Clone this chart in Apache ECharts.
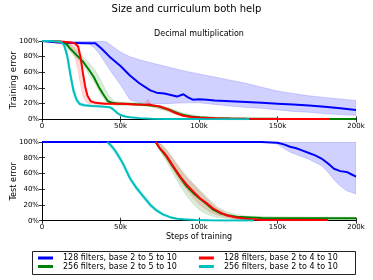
<!DOCTYPE html>
<html>
<head>
<meta charset="utf-8">
<script src="https://cdn.jsdelivr.net/npm/echarts@6/dist/echarts.min.js"></script>
<style>html,body{margin:0;padding:0;background:#fff}#c{width:373px;height:280px}</style>
</head>
<body>
<div id="c"></div>
<script>
// ---------- Data (x in thousands of steps, y in % error) ----------
const seriesNames = ["128 filters, base 2 to 5 to 10", "256 filters, base 2 to 5 to 10", "128 filters, base 2 to 4 to 10", "256 filters, base 2 to 4 to 10"];
const xTickLabels = ["0", "50k", "100k", "150k", "200k"];
const yTickLabels = ["0%", "20%", "40%", "60%", "80%", "100%"];

// Training error
const blueTrainX = [0, 5, 10, 20, 30, 34, 38, 43, 50, 56, 62, 69, 73, 78, 82, 86, 90, 93, 96, 100, 105, 110, 120, 130, 140, 150, 160, 170, 180, 190, 200];
const blueTrainY = [100, 99, 98, 97.5, 97, 97, 90, 80, 68, 56, 46, 37, 34, 33, 31, 29, 32, 28, 25, 25.5, 25, 24, 23, 22, 21, 20, 19, 17.5, 16, 14, 12];
const blueTrainBandX = [0, 10, 20, 30, 33, 36, 41, 45, 50, 56, 62, 70, 80, 90, 100, 110, 120, 130, 140, 150, 160, 170, 180, 190, 200];
const blueTrainLo = [100, 99, 97, 96, 92, 85, 70, 58, 44, 25, 21, 20, 20, 21, 21, 19, 17, 15, 14, 12, 10, 9, 7, 6, 5];
const blueTrainHi = [100, 100, 100, 100, 100, 100, 99, 93, 86, 80, 76, 72, 67, 62, 58, 54, 50, 46, 41, 36, 33, 30, 28, 26, 24];

const greenTrainX = [0, 5, 10, 12, 14, 16, 18, 22, 26, 30, 33, 36, 39, 42, 45, 48, 52, 56, 62, 68, 74, 78, 82, 86, 90, 95, 100, 110, 120, 130, 150, 175, 200];
const greenTrainY = [100, 100, 99.5, 99, 98, 95, 90, 82, 74, 63, 54, 42, 32, 23, 21, 20, 20, 19.5, 19, 18, 16.5, 14, 11.5, 8, 5.5, 3.5, 2.5, 1.5, 1, 0.8, 0.6, 0.5, 0.5];
const greenTrainBandX = [10, 14, 18, 22, 26, 30, 34, 38, 42, 46, 50, 60, 70, 80, 90, 100, 120, 150, 200];
const greenTrainLo = [99, 96, 86, 78, 70, 57, 45, 30, 20, 18, 18, 18, 16, 10, 4, 2, 0.5, 0.2, 0.2];
const greenTrainHi = [100, 99.5, 96, 88, 80, 72, 62, 48, 32, 23, 22, 21, 19, 15, 8, 4, 2, 1, 1];

const redTrainX = [0, 5, 10, 14, 18, 21, 23, 24.5, 26, 27.5, 29, 31, 34, 40, 50, 60, 66, 68, 70, 75, 80, 85, 90, 95, 100, 110, 120, 130, 150, 170, 183];
const redTrainY = [100, 100, 99.5, 99, 98, 97, 93, 80, 60, 42, 30, 23, 21, 20, 20, 19, 18.5, 19, 18, 16.5, 13, 8, 4.5, 3, 2, 1.2, 0.8, 0.6, 0.5, 0.4, 0.4];
const redTrainBandX = [10, 16, 19, 21, 23, 24, 25, 26, 28, 30, 34, 40, 50, 60, 66, 67, 68, 69, 70, 80, 90, 100, 120, 150, 183];
const redTrainLo = [99.5, 97, 90, 80, 62, 50, 40, 30, 22, 20, 19, 19, 18.5, 18, 17.5, 17.5, 17, 17, 16.5, 11, 3, 1, 0.5, 0.3, 0.3];
const redTrainHi = [100, 99.5, 99, 98, 96, 88, 72, 55, 35, 25, 22, 21, 21, 20, 20, 25, 25, 20, 19, 15, 6, 3, 1, 0.6, 0.5];

const cyanTrainX = [0, 5, 10, 12, 14, 16, 18, 20, 22, 24, 27, 32, 38, 43, 44.5, 46, 48, 50, 53, 56, 62, 70, 80, 100, 132];
const cyanTrainY = [100, 100, 99.5, 99, 95, 82, 58, 37, 25, 19.5, 18, 17, 16.5, 15.5, 14, 11.5, 8, 5.5, 3.5, 2.5, 1.5, 0.8, 0.5, 0.3, 0.2];
const cyanTrainLo = [100, 100, 99, 98, 92, 76, 50, 31, 21, 17.5, 16.5, 16, 15.5, 14.5, 12.5, 10, 6.5, 4.5, 2.5, 2, 1, 0.6, 0.4, 0.2, 0.1];
const cyanTrainHi = [100, 100, 100, 99.5, 97, 88, 66, 44, 29, 22, 19.5, 18, 17.5, 16.5, 15.5, 13, 9.5, 6.5, 4.5, 3, 2, 1, 0.6, 0.4, 0.3];

// Test error
const blueTestX = [0, 50, 100, 140, 146, 150, 154, 158, 162, 166, 170, 174, 178, 182, 186, 190, 194, 197, 200];
const blueTestY = [100, 100, 100, 100, 99.5, 99, 97, 94, 92, 89, 86, 83, 79, 73, 66, 63, 62, 59, 56];
const blueTestBandX = [140, 146, 150, 154, 158, 162, 166, 170, 174, 178, 182, 186, 190, 194, 200];
const blueTestLo = [100, 99, 97, 92, 87, 84, 81, 78, 74, 70, 62, 52, 44, 38, 34];
const blueTestHi = [100, 100, 100, 100, 100, 100, 100, 100, 100, 100, 100, 100, 100, 100, 100];

const greenTestX = [72.4, 75, 77, 79.4, 83.6, 88, 92, 96.4, 100.6, 105, 109, 113.4, 118, 124, 130, 140, 150, 160, 170, 180, 190, 200];
const greenTestY = [100, 92, 87, 81, 68, 55, 44, 35, 28, 21, 14, 9.5, 7, 5, 4.5, 3.5, 3, 3, 3.2, 3, 3, 3];
const greenTestBandX = [72.4, 76, 80, 84, 88, 92, 96, 100, 104, 108, 112, 118, 124, 130, 150, 200];
const greenTestLo = [100, 86, 73, 58, 44, 32, 22, 14, 9, 6, 4, 3, 2, 1.5, 1, 1];
const greenTestHi = [100, 97, 89, 78, 67, 57, 48, 40, 32, 24, 17, 11, 8, 6, 5, 4.5];

const redTestX = [72.4, 75, 77, 79.4, 83.6, 88, 92, 96.4, 100.6, 105, 109, 113.4, 118, 124, 130, 140, 160, 182];
const redTestY = [100, 92, 88, 82, 69, 56, 46, 37, 28.5, 22, 15.5, 10.5, 6.5, 4, 2.5, 1, 0.8, 0.8];
const redTestBandX = [72.4, 76, 80, 84, 88, 92, 96, 100, 104, 108, 112, 118, 124, 130, 182];
const redTestLo = [100, 88, 76, 63, 50, 40, 30, 21, 15, 10, 7, 4, 2, 1, 0.4];
const redTestHi = [100, 97, 88, 76, 65, 55, 47, 38, 30, 22, 15, 9, 5, 3, 1.2];

const cyanTestX = [41.5, 43.3, 45.5, 47.6, 50, 52, 56, 60, 64.5, 69, 73, 77, 81.5, 86, 90, 98, 110, 125, 135];
const cyanTestY = [100, 97, 92, 86, 78, 71, 54, 42, 31, 20, 13, 8, 4.5, 2.5, 1.7, 0.8, 0.4, 0.2, 0.2];
const cyanTestLo = [99, 94, 88, 82, 75, 67, 51, 39, 28, 17, 11, 6.5, 3.5, 1.8, 1.2, 0.5, 0.2, 0.1, 0.1];
const cyanTestHi = [100, 99, 95, 89, 81, 74, 57, 45, 34, 23, 15, 9.5, 5.5, 3.5, 2.5, 1.2, 0.6, 0.3, 0.3];

// ---------- Styling ----------
const FONT = "DejaVu Sans";
const C = { blue: "#0000ff", green: "#008000", red: "#ff0000", cyan: "#00bfbf" };
const FILL = { blue: "rgba(0,0,255,0.18)", green: "rgba(0,128,0,0.15)", red: "rgba(255,0,0,0.15)", cyan: "rgba(0,191,191,0.2)" };
const EDGE = { blue: "rgba(0,0,255,0.25)", green: "rgba(0,128,0,0.2)", red: "rgba(255,0,0,0.2)", cyan: "rgba(0,191,191,0.25)" };

function pts(xs, ys) { return xs.map((x, i) => [x, ys[i]]); }

function line(name, xs, ys, key, g) {
  return { type: "line", name: name, xAxisIndex: g * 2, yAxisIndex: g * 2, data: pts(xs, ys),
    symbol: "none", showSymbol: false, silent: true, z: 5,
    lineStyle: { color: C[key], width: 2 }, itemStyle: { color: C[key] } };
}
// Band drawn as a polygon: upper edge forward, lower edge backward, mapped through the axes with api.coord
function band(xs, lo, hi, key, g) {
  const rows = xs.map((x, i) => [x, lo[i], hi[i]]);
  return { type: "custom", xAxisIndex: g * 2, yAxisIndex: g * 2, silent: true, z: 2,
    data: [0], clip: true,
    renderItem: function (params, api) {
      const up = rows.map(r => api.coord([r[0], r[2]]));
      const dn = rows.slice().reverse().map(r => api.coord([r[0], r[1]]));
      return { type: "polygon", shape: { points: up.concat(dn) },
        style: { fill: FILL[key], stroke: EDGE[key], lineWidth: 0.6 } };
    } };
}

const grids = [
  { left: 42, right: 17, top: 41, height: 78.3, outerBoundsMode: "none", containLabel: false },
  { left: 42, right: 17, top: 142, height: 78.7, outerBoundsMode: "none", containLabel: false }
];
const axText = { color: "#000", fontFamily: FONT, fontSize: 7 };
const tickIn = { show: true, inside: true, length: 3, lineStyle: { color: "#000", width: 0.8 } };
const axLine = { show: true, lineStyle: { color: "#000", width: 1 } };

const xAxes = [], yAxes = [];
[0, 1].forEach(g => {
  xAxes.push({ type: "value", gridIndex: g, min: 0, max: 200, interval: 50, position: "bottom",
    axisLine: axLine, axisTick: tickIn, splitLine: { show: false },
    axisLabel: { ...axText, margin: 3, formatter: v => xTickLabels[v / 50] },
    name: g === 1 ? "Steps of training" : "", nameLocation: "middle", nameGap: 12, nameMoveOverlap: false,
    nameTextStyle: { color: "#000", fontFamily: FONT, fontSize: 8 } });
  xAxes.push({ type: "value", gridIndex: g, min: 0, max: 200, interval: 50, position: "top",
    axisLine: axLine, axisTick: tickIn, splitLine: { show: false }, axisLabel: { show: false } });
  yAxes.push({ type: "value", gridIndex: g, min: 0, max: 100, interval: 20, position: "left",
    axisLine: axLine, axisTick: tickIn, splitLine: { show: false },
    axisLabel: { ...axText, margin: 3, formatter: v => yTickLabels[v / 20] },
    name: g === 0 ? "Training error" : "Test error", nameLocation: "middle", nameGap: 24, nameRotate: 90,
    nameMoveOverlap: false,
    nameTextStyle: { color: "#000", fontFamily: FONT, fontSize: g === 0 ? 8.7 : 8.2 } });
  yAxes.push({ type: "value", gridIndex: g, min: 0, max: 100, interval: 20, position: "right",
    axisLine: axLine, axisTick: tickIn, splitLine: { show: false }, axisLabel: { show: false } });
});

const series = [
  band(blueTrainBandX, blueTrainLo, blueTrainHi, "blue", 0),
  band(greenTrainBandX, greenTrainLo, greenTrainHi, "green", 0),
  band(redTrainBandX, redTrainLo, redTrainHi, "red", 0),
  band(cyanTrainX, cyanTrainLo, cyanTrainHi, "cyan", 0),
  band(blueTestBandX, blueTestLo, blueTestHi, "blue", 1),
  band(greenTestBandX, greenTestLo, greenTestHi, "green", 1),
  band(redTestBandX, redTestLo, redTestHi, "red", 1),
  band(cyanTestX, cyanTestLo, cyanTestHi, "cyan", 1),
  line(seriesNames[0], blueTrainX, blueTrainY, "blue", 0),
  line(seriesNames[1], greenTrainX, greenTrainY, "green", 0),
  line(seriesNames[2], redTrainX, redTrainY, "red", 0),
  line(seriesNames[3], cyanTrainX, cyanTrainY, "cyan", 0),
  line(seriesNames[0], blueTestX, blueTestY, "blue", 1),
  line(seriesNames[1], greenTestX, greenTestY, "green", 1),
  line(seriesNames[2], redTestX, redTestY, "red", 1),
  line(seriesNames[3], cyanTestX, cyanTestY, "cyan", 1)
];

const legendBase = { orient: "horizontal", left: 38, padding: 0, itemGap: 22, itemWidth: 15, itemHeight: 3,
  icon: "rect", selectedMode: false,
  textStyle: { color: "#000", fontFamily: FONT, fontSize: 8, lineHeight: 9, padding: [0, 0, 0, 5] } };

const chart = echarts.init(document.getElementById("c"), null, { renderer: "canvas" });
chart.setOption({
  animation: false,
  backgroundColor: "#fff",
  title: [
    { text: "Size and curriculum both help", left: "center", top: 4.5, padding: 0,
      textStyle: { color: "#000", fontFamily: FONT, fontSize: 10, fontWeight: "normal" } },
    { text: "Decimal multiplication", left: 199, textAlign: "center", top: 29.5, padding: 0,
      textStyle: { color: "#000", fontFamily: FONT, fontSize: 8, fontWeight: "normal" } }
  ],
  legend: [
    { ...legendBase, top: 253.5, data: [seriesNames[0], seriesNames[2]] },
    { ...legendBase, top: 262, data: [seriesNames[1], seriesNames[3]] }
  ],
  graphic: [
    { type: "rect", shape: { x: 32.5, y: 251.5, width: 323, height: 23 },
      style: { fill: null, stroke: "#222", lineWidth: 1 }, silent: true }
  ],
  grid: grids,
  xAxis: xAxes,
  yAxis: yAxes,
  series: series
});
</script>
</body>
</html>
